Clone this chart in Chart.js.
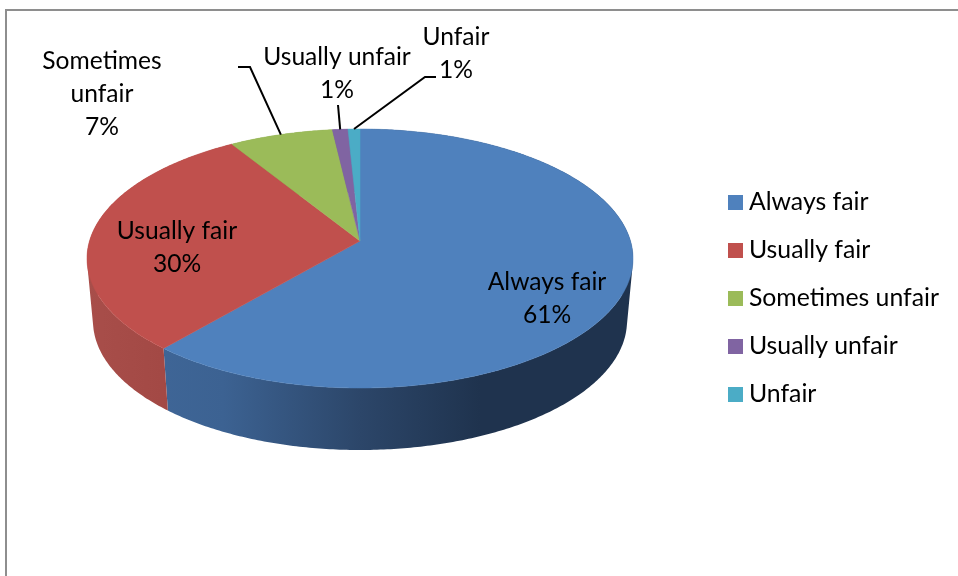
<!DOCTYPE html>
<html>
<head>
<meta charset="utf-8">
<style>
  html, body { margin: 0; padding: 0; background: #fff; }
  canvas { display: block; }
</style>
<script src="https://cdn.jsdelivr.net/npm/chart.js@4"></script>
</head>
<body>
<canvas id="chart" width="958" height="576"></canvas>
<script>
const categories = ['Always fair', 'Usually fair', 'Sometimes unfair', 'Usually unfair', 'Unfair'];
// the labels show them rounded
const percentages = [61.3, 29.85, 7.0, 1.05, 0.8];
const sliceColors = ['#4f81bd', '#c0504d', '#9bbb59', '#8064a2', '#4bacc6'];
const wrappedNames = [['Always fair'], ['Usually fair'], ['Sometimes', 'unfair'], ['Usually unfair'], ['Unfair']];

const FONT = 'Lato, sans-serif';
const LABEL_SIZE = 24.6;
const LEGEND_SIZE = 24.8;

// the tilted disc: top ellipse, bottom ellipse, and where the slices meet
const top3d = { cx: 360, cy: 258.5, rx: 273, ry: 129.5 };
const bottom3d = { cx: 360, cy: 321, rx: 267, ry: 129 };
const apexY = 241;
const skew = (apexY - top3d.cy) / top3d.ry;

// label centre (first line) and leader line for each slice
const labelSpots = [
  { x: 547, y: 282.5 },
  { x: 177, y: 231.5 },
  { x: 102, y: 61.5, leader: [[250, 67], [238, 67]] },
  { x: 337, y: 57.5, leader: [[338, 105]] },
  { x: 456, y: 37.5, leader: [[425, 77], [436, 77]] }
];
const lineHeight = 33;

// wall shading, dark towards the right
const wallStops = [
  [[0.0, '#41699b'], [0.25, '#3c6292'], [0.5, '#2c4669'], [0.72, '#1f334e'], [1, '#1f334e']],
  [[0.0, '#a84e4a'], [0.3, '#9d433f'], [1, '#96403c']],
  [[0, '#7d9647'], [1, '#7d9647']],
  [[0, '#665082'], [1, '#665082']],
  [[0, '#3c8a9e'], [1, '#3c8a9e']]
];

// a data angle on the flat pie -> a point on the perspective rim
function rim(angle, e) {
  const u = Math.cos(angle), v = Math.sin(angle);
  const d = 1 + skew * v;
  const nx = u * Math.sqrt(1 - skew * skew) / d;
  const ny = (v + skew) / d;
  return [e.cx + e.rx * nx, e.cy + e.ry * ny];
}

function rimSamples(arc) {
  const steps = Math.max(4, Math.ceil((arc.endAngle - arc.startAngle) * 90));
  const out = [];
  for (let i = 0; i <= steps; i++) {
    out.push(arc.startAngle + (arc.endAngle - arc.startAngle) * i / steps);
  }
  return out;
}

// quads of one wall all wound the same way, or the back ones cancel the front ones
function addQuad(ctx, q) {
  let area = 0;
  q.forEach((p, i) => {
    const n = q[(i + 1) % 4];
    area += p[0] * n[1] - n[0] * p[1];
  });
  const pts = area < 0 ? q.slice().reverse() : q;
  ctx.moveTo(pts[0][0], pts[0][1]);
  ctx.lineTo(pts[1][0], pts[1][1]);
  ctx.lineTo(pts[2][0], pts[2][1]);
  ctx.lineTo(pts[3][0], pts[3][1]);
  ctx.closePath();
}

const pie3d = {
  id: 'pie3d',
  beforeDraw(chart) {
    const ctx = chart.ctx;
    ctx.save();
    ctx.fillStyle = '#fff';
    ctx.fillRect(0, 0, chart.width, chart.height);
    ctx.fillStyle = '#8e8e8e';
    ctx.fillRect(5, 9, chart.width - 5, 2);
    ctx.fillRect(5, 9, 2, chart.height - 9);
    ctx.restore();
  },
  beforeDatasetDraw(chart, args) {
    const ctx = chart.ctx;
    const arcs = chart.getDatasetMeta(args.index).data;
    ctx.save();

    // walls first
    arcs.forEach((arc, i) => {
      const angles = rimSamples(arc);
      const g = ctx.createLinearGradient(bottom3d.cx - top3d.rx, 0, bottom3d.cx + top3d.rx, 0);
      wallStops[i].forEach(s => g.addColorStop(s[0], s[1]));
      ctx.beginPath();
      for (let k = 0; k < angles.length - 1; k++) {
        addQuad(ctx, [
          rim(angles[k], top3d), rim(angles[k + 1], top3d),
          rim(angles[k + 1], bottom3d), rim(angles[k], bottom3d)
        ]);
      }
      ctx.fillStyle = g;
      ctx.fill();
    });

    // then the top face
    arcs.forEach((arc, i) => {
      ctx.beginPath();
      ctx.moveTo(top3d.cx, apexY);
      rimSamples(arc).forEach(a => {
        const p = rim(a, top3d);
        ctx.lineTo(p[0], p[1]);
      });
      ctx.closePath();
      ctx.fillStyle = sliceColors[i];
      ctx.strokeStyle = sliceColors[i];
      ctx.lineWidth = 0.5;
      ctx.fill();
      ctx.stroke();
    });

    // leader lines and labels
    ctx.strokeStyle = '#000';
    ctx.lineWidth = 2;
    ctx.fillStyle = '#000';
    ctx.font = LABEL_SIZE + 'px ' + FONT;
    ctx.textAlign = 'center';
    ctx.textBaseline = 'middle';
    arcs.forEach((arc, i) => {
      const spot = labelSpots[i];
      if (spot.leader) {
        const start = rim((arc.startAngle + arc.endAngle) / 2, top3d);
        ctx.beginPath();
        ctx.moveTo(start[0], start[1]);
        spot.leader.forEach(p => ctx.lineTo(p[0], p[1]));
        ctx.stroke();
      }
      const lines = wrappedNames[i].concat(Math.round(percentages[i]) + '%');
      lines.forEach((t, k) => ctx.fillText(t, spot.x, spot.y + k * lineHeight));
    });

    ctx.restore();
    return false;
  }
};

function swatch(color) {
  const c = document.createElement('canvas');
  c.width = 15;
  c.height = 15;
  const x = c.getContext('2d');
  x.fillStyle = color;
  x.fillRect(0, 0, 15, 15);
  return c;
}

new Chart(document.getElementById('chart'), {
  type: 'pie',
  data: {
    labels: categories,
    datasets: [{
      data: percentages,
      backgroundColor: sliceColors,
      borderWidth: 0
    }]
  },
  options: {
    responsive: false,
    animation: false,
    layout: { padding: { top: 20, right: 9 } },
    plugins: {
      tooltip: { enabled: false },
      legend: {
        position: 'right',
        labels: {
          font: { family: FONT, size: LEGEND_SIZE },
          color: '#000',
          usePointStyle: true,
          pointStyleWidth: 3,
          boxHeight: 15,
          padding: 23.2,
          generateLabels(chart) {
            const items = Chart.overrides.pie.plugins.legend.labels.generateLabels(chart);
            items.forEach((it, i) => { it.pointStyle = swatch(sliceColors[i]); });
            return items;
          }
        }
      }
    }
  },
  plugins: [pie3d]
});
</script>
</body>
</html>
